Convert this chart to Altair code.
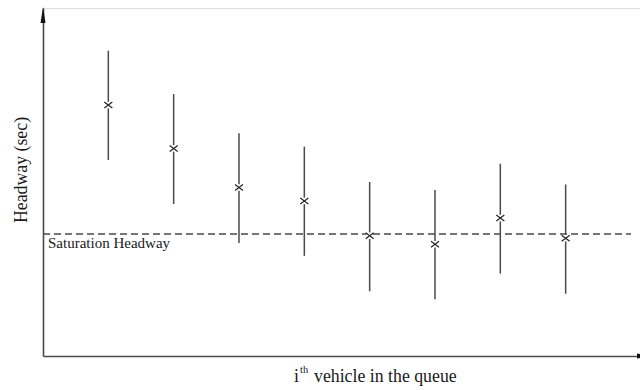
import altair as alt
import pandas as pd

# Data (headway in seconds, schematic)
vehicle = [1, 2, 3, 4, 5, 6, 7, 8]
headway_mean = [4.11, 3.40, 2.76, 2.54, 1.97, 1.83, 2.26, 1.93]
headway_low = [3.21, 2.49, 1.85, 1.64, 1.06, 0.93, 1.35, 1.02]
headway_high = [5.00, 4.29, 3.65, 3.43, 2.85, 2.72, 3.15, 2.81]
saturation_headway = 2.0
sat_x_start = [0.0]
sat_x_end = [9.0]
sat_label = ["Saturation Headway"]
x_title_i = "i"
x_title_sup = "th"
x_title_rest = "vehicle in the queue"
y_title = "Headway (sec)"

df = pd.DataFrame({"v": vehicle, "m": headway_mean, "lo": headway_low, "hi": headway_high})
sat = pd.DataFrame({"x": sat_x_start, "x2": sat_x_end, "y": [saturation_headway], "label": sat_label})

LINE = "#4a4a4a"
TXT = "#1a1a1a"
FONT = "Liberation Serif"

xs = alt.Scale(domain=[0, 9.138], nice=False, zero=False)
ys = alt.Scale(domain=[0, 5.7], nice=False, zero=False)
ax = alt.Axis(labels=False, ticks=False, grid=False, title=None, domainColor=LINE, domainWidth=1.6)

base = alt.Chart(df)

bars = base.mark_rule(color=LINE, strokeWidth=1.5).encode(
    x=alt.X("v:Q", scale=xs, axis=ax),
    y=alt.Y("lo:Q", scale=ys, axis=ax),
    y2="hi:Q",
)

gap = base.mark_point(shape="square", filled=True, color="white", size=42, opacity=1).encode(
    x=alt.X("v:Q", scale=xs), y=alt.Y("m:Q", scale=ys)
)

cross = base.mark_point(
    shape="M-1,-0.75L1,0.75M1,-0.75L-1,0.75", filled=False, color="#222", size=64, strokeWidth=1.2, opacity=1
).encode(x=alt.X("v:Q", scale=xs), y=alt.Y("m:Q", scale=ys))

dash = alt.Chart(sat).mark_rule(color=LINE, strokeWidth=1.5, strokeDash=[7, 4]).encode(
    x=alt.X("x:Q", scale=xs), x2="x2:Q", y=alt.Y("y:Q", scale=ys)
)

sat_text = alt.Chart(sat).mark_text(
    align="left", baseline="alphabetic", dx=5, dy=14, font=FONT, fontSize=15, color=TXT
).encode(x=alt.X("x:Q", scale=xs), y=alt.Y("y:Q", scale=ys), text="label:N")

arrow_up = alt.Chart(pd.DataFrame({"a": [0]})).mark_point(
    shape="M0,-1L-0.3125,1L0.3125,1Z", filled=True, color="#111", size=256, opacity=1
).encode(x=alt.value(0), y=alt.value(7))

arrow_right = alt.Chart(pd.DataFrame({"a": [0]})).mark_point(
    shape="M1,0L-1,-0.3125L-1,0.3125Z", filled=True, color="#111", size=256, opacity=1
).encode(x=alt.value(602), y=alt.value(348))

title_df = pd.DataFrame({"a": [0]})
ytitle = alt.Chart(title_df).mark_text(
    angle=270, align="center", baseline="alphabetic", font=FONT, fontSize=17.8, color=TXT
).encode(x=alt.value(-16), y=alt.value(162), text=alt.value(y_title))

xt_i = alt.Chart(title_df).mark_text(
    align="left", baseline="alphabetic", font=FONT, fontSize=17.8, color=TXT
).encode(x=alt.value(251), y=alt.value(374), text=alt.value(x_title_i))

xt_sup = alt.Chart(title_df).mark_text(
    align="left", baseline="alphabetic", font=FONT, fontSize=10.5, color=TXT
).encode(x=alt.value(257), y=alt.value(365), text=alt.value(x_title_sup))

xt_rest = alt.Chart(title_df).mark_text(
    align="left", baseline="alphabetic", font=FONT, fontSize=17.8, color=TXT
).encode(x=alt.value(271), y=alt.value(374), text=alt.value(x_title_rest))

chart = alt.layer(
    bars, dash, gap, cross, sat_text, arrow_up, arrow_right, ytitle, xt_i, xt_sup, xt_rest
).properties(
    width=597,
    height=348,
    autosize=alt.AutoSizeParams(type="none"),
    padding={"left": 43, "top": 8, "right": 0, "bottom": 34},
).configure_view(stroke=None).configure(background="white")

chart.save("out.html", embed_options={"renderer": "svg", "actions": False})
